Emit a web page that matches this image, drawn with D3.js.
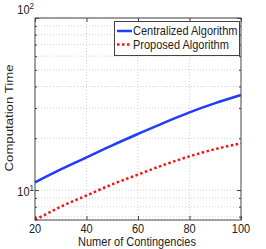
<!DOCTYPE html>
<html>
<head>
<meta charset="utf-8">
<script src="https://cdn.jsdelivr.net/npm/d3@7"></script>
<style>
  body { margin: 0; background: #fff; }
  svg text { font-family: "Liberation Sans", Arial, sans-serif; fill: #222; }
</style>
</head>
<body>
<svg id="chart" width="266" height="249"></svg>
<script>
// contingencies on x, computation time (log) on y
const contingencies = [20, 30, 40, 50, 60, 70, 80, 90, 100];
const centralized = [11.1, 13.2, 15.5, 18.2, 21.2, 24.6, 28.3, 32.0, 35.7];
const proposed = [6.7, 8.0, 9.3, 10.8, 12.3, 14.0, 15.7, 17.3, 18.7];
const xTicks = [20, 40, 60, 80, 100];
const yMajor = [10, 100];
const seriesNames = ["Centralized Algorithm", "Proposed Algorithm"];

let margin = { left: 35, top: 18, right: 25, bottom: 29 };
let width = 266, height = 249;
let stretch = 1.1;  //texts a bit taller than wide, like the original

let svg = d3.select("#chart");

let xScale = d3.scaleLinear()
    .domain([20, 100])
    .range([margin.left, width - margin.right]);

let yScale = d3.scaleLog()
    .domain([6.7, 100])
    .range([height - margin.bottom, margin.top]);

let x0 = margin.left, x1 = width - margin.right;
let y0 = height - margin.bottom, y1 = margin.top;

function addText(parent, x, y, str, anchor, size) {
    return parent.append("text")
        .attr("transform", `translate(${x}, ${y}) scale(1, ${stretch})`)
        .attr("text-anchor", anchor || "start")
        .style("font-size", (size || 11) + "px")
        .text(str);
}

//grid
let minor = [];
for (let v = 7; v <= 100; v += (v < 10 ? 1 : 10)) minor.push(v);

svg.append("g")
    .selectAll("line")
    .data(minor)
    .enter()
    .append("line")
    .attr("x1", x0).attr("x2", x1)
    .attr("y1", d => yScale(d)).attr("y2", d => yScale(d))
    .style("stroke", "#c8c8c8")
    .style("stroke-width", 0.8)
    .style("stroke-dasharray", "1,2");

svg.append("g")
    .selectAll("line")
    .data(xTicks.slice(1, -1))
    .enter()
    .append("line")
    .attr("x1", d => xScale(d)).attr("x2", d => xScale(d))
    .attr("y1", y0).attr("y2", y1)
    .style("stroke", "#c8c8c8")
    .style("stroke-width", 0.8)
    .style("stroke-dasharray", "1,2");

//lines
let line = d3.line()
    .x((d, i) => xScale(contingencies[i]))
    .y(d => yScale(d))
    .curve(d3.curveMonotoneX);

svg.append("path")
    .attr("d", line(centralized))
    .style("fill", "none")
    .style("stroke", "#1f3cff")
    .style("stroke-width", 2.5);

svg.append("path")
    .attr("d", line(proposed))
    .style("fill", "none")
    .style("stroke", "#ff1010")
    .style("stroke-width", 2.5)
    .style("stroke-dasharray", "2.5,2.5");

//axes ticks (inside)
[[d3.axisBottom, y0], [d3.axisTop, y1]].forEach(([ax, pos]) => {
    let g = svg.append("g")
        .attr("transform", `translate(0, ${pos})`)
        .call(ax(xScale).tickValues(xTicks).tickSize(-4).tickFormat(""));
    g.select(".domain").remove();
    g.selectAll("line").style("stroke", "#444");
});

[d3.axisLeft, d3.axisRight].forEach((ax, k) => {
    let g = svg.append("g")
        .attr("transform", `translate(${k == 0 ? x0 : x1}, 0)`)
        .call(ax(yScale).tickValues(yMajor).tickSize(-4).tickFormat(""));
    g.select(".domain").remove();
    g.selectAll("line").style("stroke", "#444");
    let gm = svg.append("g")
        .attr("transform", `translate(${k == 0 ? x0 : x1}, 0)`)
        .call(ax(yScale).tickValues(minor.filter(v => !yMajor.includes(v))).tickSize(-2).tickFormat(""));
    gm.select(".domain").remove();
    gm.selectAll("line").style("stroke", "#444");
});

//tick labels
xTicks.forEach(v => {
    addText(svg, xScale(v), y0 + 12.8, d3.format("d")(v), "middle");
});

let yLabelShift = [6, -4];
yMajor.forEach((v, i) => {
    let t = addText(svg, x0 - 1, yScale(v) + yLabelShift[i], "", "end");
    t.append("tspan").text("10");
    t.append("tspan").attr("dy", -5).style("font-size", "8px").text(i + 1);
});

svg.append("rect")
    .attr("x", x0).attr("y", y1)
    .attr("width", x1 - x0).attr("height", y0 - y1)
    .style("fill", "none")
    .style("stroke", "#444")
    .style("stroke-width", 1);

addText(svg, (x0 + x1) / 2 - 1, 246.3, "Numer of Contingencies", "middle");

svg.append("text")
    .attr("transform", `translate(13, ${(y0 + y1) / 2 - 1}) rotate(-90) scale(1.2, 1)`)
    .attr("text-anchor", "middle")
    .style("font-size", "11px")
    .text("Computation Time");

//legend
let legend = svg.append("g").attr("transform", "translate(114.5, 21.5)");
legend.append("rect")
    .attr("width", 125).attr("height", 34)
    .style("fill", "#fff")
    .style("stroke", "#444")
    .style("stroke-width", 1);

let legendStyles = [
    { color: "#1f3cff", dash: null },
    { color: "#ff1010", dash: "2.5,2.5" }
];
seriesNames.forEach((name, i) => {
    let yy = 9.5 + i * 13.6;
    legend.append("line")
        .attr("x1", 2.5).attr("x2", 17.5)
        .attr("y1", yy).attr("y2", yy)
        .style("stroke", legendStyles[i].color)
        .style("stroke-width", 2.5)
        .style("stroke-dasharray", legendStyles[i].dash);
    addText(legend, 18.5, yy + 4, name);
});
</script>
</body>
</html>
